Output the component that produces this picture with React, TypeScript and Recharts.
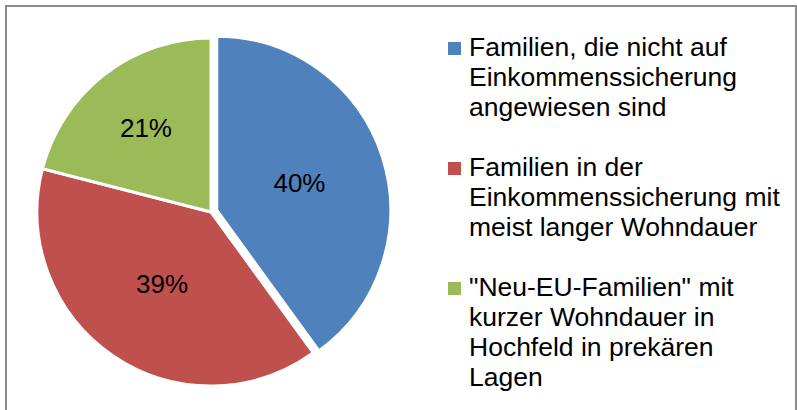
import { Legend, Pie, PieChart, Cell } from "recharts";

const legendLines = [
    ["Familien, die nicht auf", "Einkommenssicherung", "angewiesen sind"],
    ["Familien in der", "Einkommenssicherung mit", "meist langer Wohndauer"],
    ["\"Neu-EU-Familien\" mit", "kurzer Wohndauer in", "Hochfeld in prekären", "Lagen"],
];
const names = legendLines.map((l) => l.join(" "));
const shares = [40, 39, 21];
const colors = ["#4F81BD", "#C0504D", "#9BBB59"];

const data = names.map((name, i) => ({ name, value: shares[i] }));

const FONT = "'Liberation Sans', Arial, sans-serif";
const CX = 211;
const CY = 212;
const R = 174;
const EXPLODE = 6; // Versatz des blauen Segments

// Mittelwinkel des ersten Segments (im Uhrzeigersinn ab 12 Uhr)
const total = shares.reduce((a, b) => a + b, 0);
const blueMid = ((90 - (shares[0] / total) * 180) * Math.PI) / 180;
const bx = CX + EXPLODE * Math.cos(blueMid);
const by = CY - EXPLODE * Math.sin(blueMid);

const RAD = Math.PI / 180;
const labelFactor = [0.5, 0.5, 0.61];

function renderLabel(only: number[]) {
    return (props: any) => {
        const { cx, cy, midAngle, outerRadius, index, value } = props;
        if (!only.includes(index)) return null;
        const r = outerRadius * labelFactor[index];
        const x = cx + r * Math.cos(-midAngle * RAD);
        const y = cy + r * Math.sin(-midAngle * RAD);
        return (
            <text
                x={x}
                y={y}
                textAnchor="middle"
                dominantBaseline="central"
                fill="#000"
                fontSize={26}
                fontFamily={FONT}
            >
                {`${value}%`}
            </text>
        );
    };
}

function LegendBox() {
    return (
        <div style={{ fontFamily: FONT, fontSize: 26.5, lineHeight: "30px", color: "#000" }}>
            {legendLines.map((lines, i) => (
                <div key={i} style={{ position: "relative", paddingLeft: 21, marginBottom: 30 }}>
                    <span
                        style={{
                            position: "absolute",
                            left: 0,
                            top: 10,
                            width: 13,
                            height: 13,
                            background: colors[i],
                        }}
                    />
                    {lines.map((t, j) => (
                        <div key={j} style={{ whiteSpace: "nowrap" }}>{t}</div>
                    ))}
                </div>
            ))}
        </div>
    );
}

export default function App() {
    return (
        <div style={{ position: "absolute", left: 0, top: 0, width: 797, height: 410, background: "#fff", overflow: "hidden" }}>
            <div
                style={{
                    position: "absolute",
                    left: 5,
                    top: 5,
                    width: 788,
                    height: 420,
                    borderTop: "2px solid #8a8a8a",
                    borderLeft: "2px solid #8a8a8a",
                    borderRight: "2px solid #8a8a8a",
                }}
            />
            <PieChart
                width={797}
                height={410}
                margin={{ top: 0, right: 0, bottom: 0, left: 0 }}
                style={{ position: "absolute", left: 0, top: 0 }}
            >
                <Pie
                    data={data}
                    dataKey="value"
                    nameKey="name"
                    cx={CX}
                    cy={CY}
                    outerRadius={R}
                    startAngle={90}
                    endAngle={-270}
                    stroke="#fff"
                    strokeWidth={3}
                    label={renderLabel([1, 2])}
                    labelLine={false}
                    isAnimationActive={false}
                >
                    {data.map((_, i) => (
                        <Cell key={i} fill={i === 0 ? "transparent" : colors[i]} stroke={i === 0 ? "none" : "#fff"} />
                    ))}
                </Pie>
                <Pie
                    data={data}
                    dataKey="value"
                    nameKey="name"
                    cx={bx}
                    cy={by}
                    outerRadius={R}
                    startAngle={90}
                    endAngle={-270}
                    stroke="#fff"
                    strokeWidth={3}
                    label={renderLabel([0])}
                    labelLine={false}
                    isAnimationActive={false}
                >
                    {data.map((_, i) => (
                        <Cell key={i} fill={i === 0 ? colors[0] : "transparent"} stroke={i === 0 ? "#fff" : "none"} />
                    ))}
                </Pie>
                <Legend
                    layout="vertical"
                    align="right"
                    verticalAlign="top"
                    content={() => <LegendBox />}
                    wrapperStyle={{ left: 448, top: 32, width: 345 }}
                />
            </PieChart>
        </div>
    );
}
